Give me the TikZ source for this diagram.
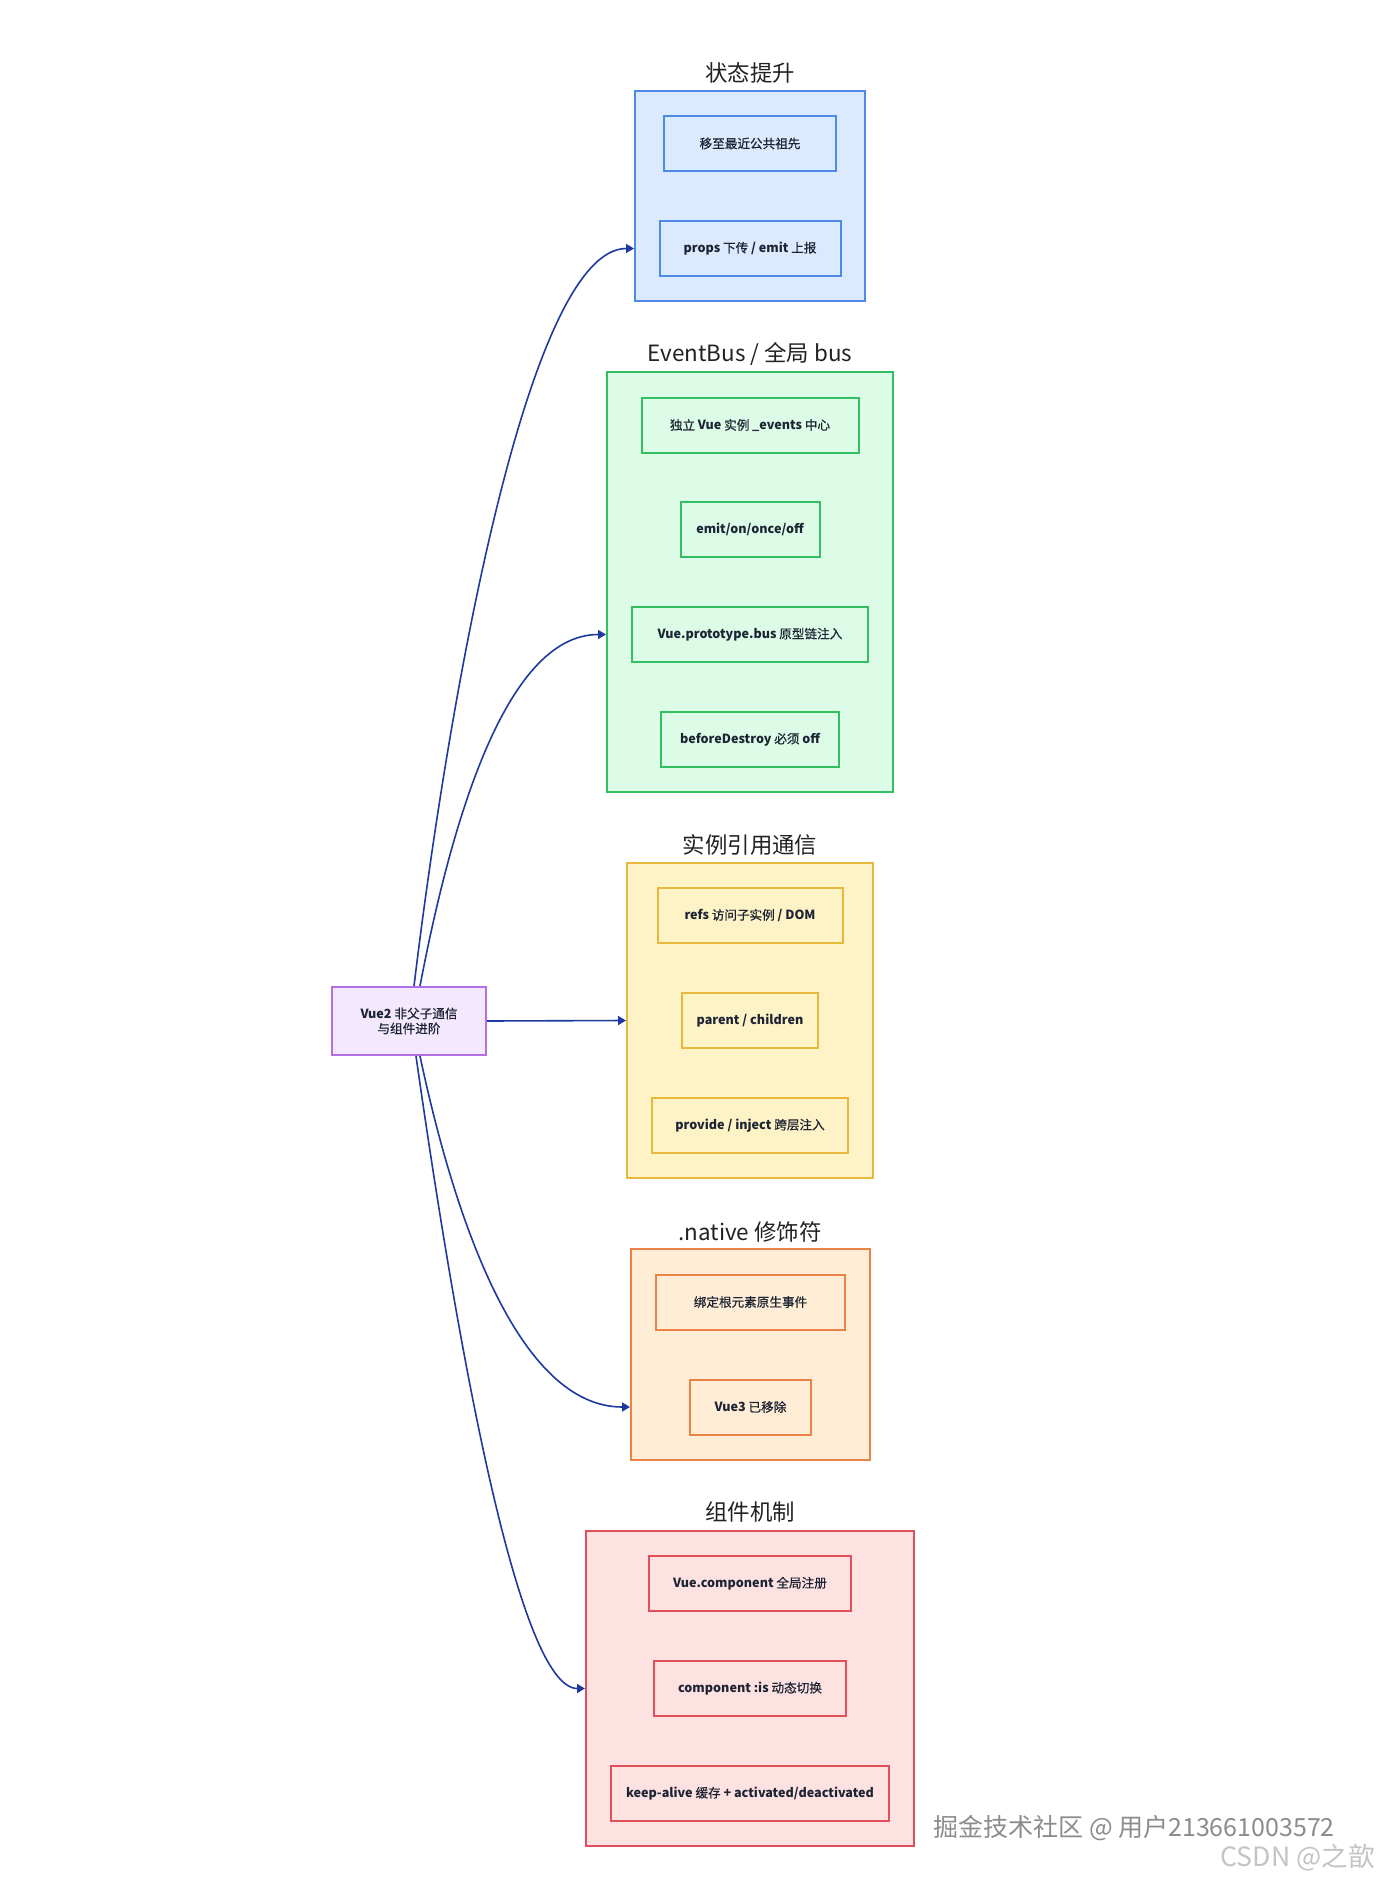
\documentclass[tikz,border=0pt]{standalone}
\usepackage{fontspec}
\setmainfont{Noto Sans CJK SC}
\newfontfamily\cjkm{Noto Sans CJK SC}[FakeBold=0.6]
\usetikzlibrary{arrows.meta}
\definecolor{bluefill}{HTML}{DBEAFE}
\definecolor{bluedraw}{HTML}{4F8BE6}
\definecolor{greenfill}{HTML}{DCFCE7}
\definecolor{greendraw}{HTML}{34BF63}
\definecolor{yellowfill}{HTML}{FEF3C7}
\definecolor{yellowdraw}{HTML}{E6B93C}
\definecolor{orangefill}{HTML}{FFEDD5}
\definecolor{orangedraw}{HTML}{EB8246}
\definecolor{redfill}{HTML}{FEE2E2}
\definecolor{reddraw}{HTML}{E1505A}
\definecolor{purplefill}{HTML}{F3E8FF}
\definecolor{purpledraw}{HTML}{B46EE6}
\definecolor{arrowc}{HTML}{1E3A9F}
\definecolor{ink}{HTML}{1C2333}
\definecolor{titleink}{HTML}{222222}
\definecolor{wmA}{HTML}{8C8C8C}
\definecolor{wmB}{HTML}{C4C4C4}
\newcommand\B[1]{{\normalfont\bfseries #1}}
\begin{document}
\begin{tikzpicture}[x=0.5pt,y=-0.5pt,
  cluster/.style={draw, line width=1pt, inner sep=0pt, anchor=center},
  ibox/.style={draw, line width=1pt, minimum height=27.5pt, inner sep=0pt, anchor=center,
    text=ink, font=\cjkm\fontsize{6.3}{7.5}\selectfont},
  ttl/.style={text=titleink, inner sep=0pt, font=\fontsize{11.2}{13}\selectfont},
  link/.style={draw=arrowc, line width=0.8pt, -{Triangle[length=4pt,width=4.5pt]}},
  wm/.style={inner sep=0pt, font=\fontsize{12.5}{14}\selectfont}]
\useasboundingbox (0,0) rectangle (1376,1882);
\fill[white] (0,0) rectangle (1376,1882);

% clusters
\node[cluster, draw=bluedraw, fill=bluefill, minimum width=115pt, minimum height=105pt] (blue) at (750,196) {};
\node[cluster, draw=greendraw, fill=greenfill, minimum width=143pt, minimum height=210pt] (green) at (750,582) {};
\node[cluster, draw=yellowdraw, fill=yellowfill, minimum width=123pt, minimum height=157.5pt] (yellow) at (750,1020.5) {};
\node[cluster, draw=orangedraw, fill=orangefill, minimum width=119.5pt, minimum height=105.5pt] (orange) at (750.5,1354.5) {};
\node[cluster, draw=reddraw, fill=redfill, minimum width=164pt, minimum height=157.5pt] (red) at (750,1688.5) {};

% titles
\node[ttl] (tblue) at (750,73) {状态提升};
\node[ttl] (tgreen) at (750,354) {EventBus / 全局 bus};
\node[ttl] (tyellow) at (750,845) {实例引用通信};
\node[ttl] (torange) at (750,1232) {.native 修饰符};
\node[ttl] (tred) at (750,1512) {组件机制};

% blue inner
\node[ibox, draw=bluedraw, fill=bluefill, minimum width=86pt] (b1) at (750,143.5) {移至最近公共祖先};
\node[ibox, draw=bluedraw, fill=bluefill, minimum width=90.5pt] (b2) at (750,248.5) {\B{props} 下传 \B{/ emit} 上报};

% green inner
\node[ibox, draw=greendraw, fill=greenfill, minimum width=108.5pt] (g1) at (750,425.5) {独立 \B{Vue} 实例 \B{\_events} 中心};
\node[ibox, draw=greendraw, fill=greenfill, minimum width=69.5pt] (g2) at (750,529.5) {\B{emit/on/once/off}};
\node[ibox, draw=greendraw, fill=greenfill, minimum width=118pt] (g3) at (750,634.5) {\B{Vue.prototype.bus} 原型链注入};
\node[ibox, draw=greendraw, fill=greenfill, minimum width=89pt] (g4) at (750,739.5) {\B{beforeDestroy} 必须 \B{off}};

% yellow inner
\node[ibox, draw=yellowdraw, fill=yellowfill, minimum width=92.5pt] (y1) at (750,915.5) {\B{refs} 访问子实例 \B{/ DOM}};
\node[ibox, draw=yellowdraw, fill=yellowfill, minimum width=68pt] (y2) at (750,1020.5) {\B{parent / children}};
\node[ibox, draw=yellowdraw, fill=yellowfill, minimum width=98pt] (y3) at (750,1125.5) {\B{provide / inject} 跨层注入};

% orange inner
\node[ibox, draw=orangedraw, fill=orangefill, minimum width=94.5pt] (o1) at (750.5,1302) {绑定根元素原生事件};
\node[ibox, draw=orangedraw, fill=orangefill, minimum width=60.5pt] (o2) at (750.5,1407) {\B{Vue3} 已移除};

% red inner
\node[ibox, draw=reddraw, fill=redfill, minimum width=101pt] (r1) at (750,1583.5) {\B{Vue.component} 全局注册};
\node[ibox, draw=reddraw, fill=redfill, minimum width=96pt] (r2) at (750,1688.5) {\B{component :is} 动态切换};
\node[ibox, draw=reddraw, fill=redfill, minimum width=139pt] (r3) at (750,1793.5) {\B{keep-alive} 缓存 \B{+ activated/deactivated}};

% hub
\node[ibox, draw=purpledraw, fill=purplefill, minimum width=77pt, minimum height=34pt, align=center] (hub) at (409,1021)
  {\B{Vue2} 非父子通信\\与组件进阶};

% connectors
\draw[link] ([xshift=2.5pt]hub.north) .. controls +(36,-297) and +(-105,0) .. (blue.west |- b2);
\draw[link] ([xshift=5.5pt]hub.north) .. controls +(30,-157) and +(-102,0) .. (green.west |- g3);
\draw[link] (hub.east) -- (yellow.west |- y2);
\draw[link] ([xshift=5.5pt]hub.south) .. controls +(35,165) and +(-111,0) .. (orange.west |- o2);
\draw[link] ([xshift=3.5pt]hub.south) .. controls +(42,295) and +(-66,0) .. (red.west |- r2);

% watermarks
\node[wm, text=wmA, anchor=west] (wm1) at (933,1828) {掘金技术社区 @ 用户213661003572};
\node[wm, text=wmB, anchor=east, font=\fontsize{13.3}{15}\selectfont] (wm2) at (1375,1858) {CSDN @之歆};
\end{tikzpicture}
\end{document}
